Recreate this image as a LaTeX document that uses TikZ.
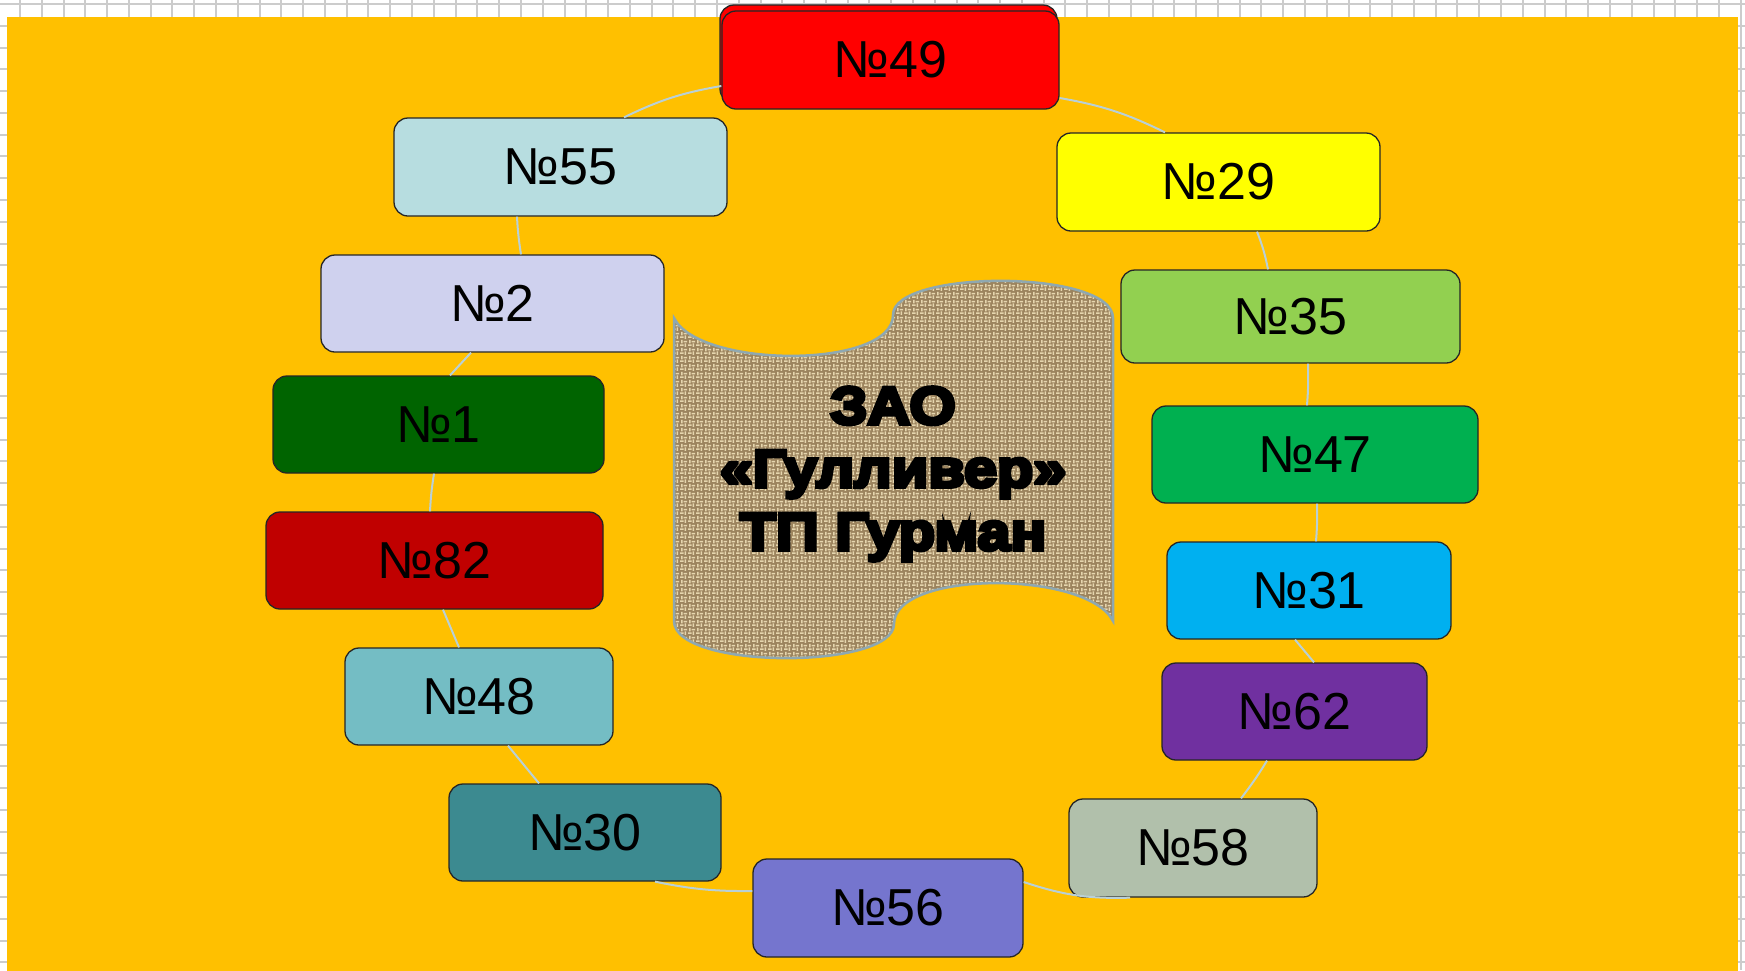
\documentclass[tikz,border=0pt]{standalone}
\usepackage{fontspec}
\setmainfont{Liberation Sans}
\newfontfamily\heavyfont[FakeBold=7,FakeStretch=1.12]{Liberation Sans Bold}
\usepackage{tikz}
\usetikzlibrary{calc, patterns.meta}

\definecolor{orangebg}{HTML}{FFC000}
\definecolor{gridgray}{HTML}{CCCCCC}
\definecolor{cycline}{HTML}{B9D0D6}
\definecolor{scrolledge}{HTML}{8FA8B0}
\definecolor{burlap}{HTML}{9C845E}
\definecolor{burlaplight}{HTML}{E6D6AE}
\definecolor{cRed}{HTML}{FF0000}
\definecolor{cIce}{HTML}{B7DDE0}
\definecolor{cYellow}{HTML}{FFFF00}
\definecolor{cLavender}{HTML}{CFD1EE}
\definecolor{cLime}{HTML}{92D050}
\definecolor{cForest}{HTML}{006400}
\definecolor{cGreen}{HTML}{00B050}
\definecolor{cDarkRed}{HTML}{C00000}
\definecolor{cSky}{HTML}{00B0F0}
\definecolor{cAqua}{HTML}{74BDC4}
\definecolor{cPurple}{HTML}{7030A0}
\definecolor{cTeal}{HTML}{3C8A90}
\definecolor{cSage}{HTML}{B1C0AB}
\definecolor{cPeriwinkle}{HTML}{7575CE}

\tikzdeclarepattern{
  name=weave,
  type=uncolored,
  bottom left={(0pt,0pt)},
  top right={(8pt,8pt)},
  tile size={(8pt,8pt)},
  code={
    \draw[line width=1.7pt] (0pt,2pt) -- (4pt,2pt) (4pt,6pt) -- (8pt,6pt)
      (6pt,0pt) -- (6pt,4pt) (2pt,4pt) -- (2pt,8pt);
  }
}

\begin{document}
\begin{tikzpicture}[x=1pt,y=-1pt,semithick]
    \tikzset{box/.style 2 args={draw=black!85, line width=1.3pt, rounded corners=14pt,
        inner sep=0pt, minimum width=#1, minimum height=#2,
        font=\fontsize{52}{60}\selectfont},
      cyc/.style={draw=cycline, line width=2pt},
      gridline/.style={draw=gridgray, line width=2pt}}

    \useasboundingbox (0,0) rectangle (1745,970);
    \foreach \k in {-1,...,80} {
      \draw[gridline] (20+21.78*\k,0) -- (20+21.78*\k,970);
      \draw[gridline] (0,4+21.78*\k) -- (1745,4+21.78*\k);
    }
    \fill[orangebg] (7,17) rectangle (1738,975);

    % scroll in the middle
    \path[fill=burlap] (674,318) .. controls (700,369) and (893,369) .. (893,315)
      .. controls (893,269) and (1113,269) .. (1113,318) -- (1113,621)
      .. controls (1087,570) and (894,570) .. (894,624)
      .. controls (894,670) and (674,670) .. (674,621) -- cycle;
    \path[pattern=weave, pattern color=burlaplight] (674,318) .. controls (700,369) and (893,369) .. (893,315)
      .. controls (893,269) and (1113,269) .. (1113,318) -- (1113,621)
      .. controls (1087,570) and (894,570) .. (894,624)
      .. controls (894,670) and (674,670) .. (674,621) -- cycle;
    \draw[scrolledge, line width=2.5pt] (674,318) .. controls (700,369) and (893,369) .. (893,315)
      .. controls (893,269) and (1113,269) .. (1113,318) -- (1113,621)
      .. controls (1087,570) and (894,570) .. (894,624)
      .. controls (894,670) and (674,670) .. (674,621) -- cycle;
    \node[align=center, font=\heavyfont\fontsize{53}{63}\selectfont] (title) at (893,474)
      {ЗАО\\«Гулливер»\\ТП Гурман};

    \node[box={337}{98}, fill=cRed] (n49back) at (888.5,54) {};
    \node[box={337}{98}, fill=cRed] (n49) at (890.5,60) {№49};
    \node[box={323}{98}, fill=cYellow] (n29) at (1218.5,182) {№29};
    \node[box={339}{93}, fill=cLime] (n35) at (1290.5,316.5) {№35};
    \node[box={326}{97}, fill=cGreen] (n47) at (1315,454.5) {№47};
    \node[box={284}{97}, fill=cSky] (n31) at (1309,590.5) {№31};
    \node[box={265}{97}, fill=cPurple] (n62) at (1294.5,711.5) {№62};
    \node[box={248}{98}, fill=cSage] (n58) at (1193,848) {№58};
    \node[box={270}{98}, fill=cPeriwinkle] (n56) at (888,908) {№56};
    \node[box={272}{97}, fill=cTeal] (n30) at (585,832.5) {№30};
    \node[box={268}{97}, fill=cAqua] (n48) at (479,696.5) {№48};
    \node[box={337}{97}, fill=cDarkRed] (n82) at (434.5,560.5) {№82};
    \node[box={331}{97}, fill=cForest] (n1) at (438.5,424.5) {№1};
    \node[box={343}{97}, fill=cLavender] (n2) at (492.5,303.5) {№2};
    \node[box={333}{98}, fill=cIce] (n55) at (560.5,167) {№55};

    \path[cyc] ($(n49.east)+(0,38)$) edge[bend left=8] ($(n29.north)+(-53.5,0)$);
    \path[cyc] ($(n29.south)+(38.5,0)$) edge[bend left=5] ($(n35.north)+(-22.5,0)$);
    \path[cyc] ($(n35.south)+(17.5,0)$) edge[bend left=3] ($(n47.north)+(-8,0)$);
    \path[cyc] ($(n47.south)+(2,0)$) edge[bend left=3] ($(n31.north)+(7,0)$);
    \path[cyc] ($(n31.south)+(-14,0)$) edge ($(n62.north)+(19.5,0)$);
    \path[cyc] ($(n62.south)+(-27.5,0)$) edge[bend left=3] ($(n58.north)+(48,0)$);
    \path[cyc] ($(n58.south)+(-63,0)$) edge[bend left=10] ($(n56.east)+(0,-26)$);
    \path[cyc] ($(n56.west)+(0,-17)$) edge[bend left=6] ($(n30.south)+(70,0)$);
    \path[cyc] ($(n30.north)+(-46,0)$) edge ($(n48.south)+(29,0)$);
    \path[cyc] ($(n48.north)+(-20,0)$) edge ($(n82.south)+(8.5,0)$);
    \path[cyc] ($(n82.north)+(-4.5,0)$) edge[bend left=3] ($(n1.south)+(-4.5,0)$);
    \path[cyc] ($(n1.north)+(11.5,0)$) edge ($(n2.south)+(-21.5,0)$);
    \path[cyc] ($(n2.north)+(28.5,0)$) edge[bend left=3] ($(n55.south)+(-43.5,0)$);
    \path[cyc] ($(n55.north)+(63.5,0)$) edge[bend left=8] ($(n49.west)+(0,26)$);
\end{tikzpicture}
\end{document}
